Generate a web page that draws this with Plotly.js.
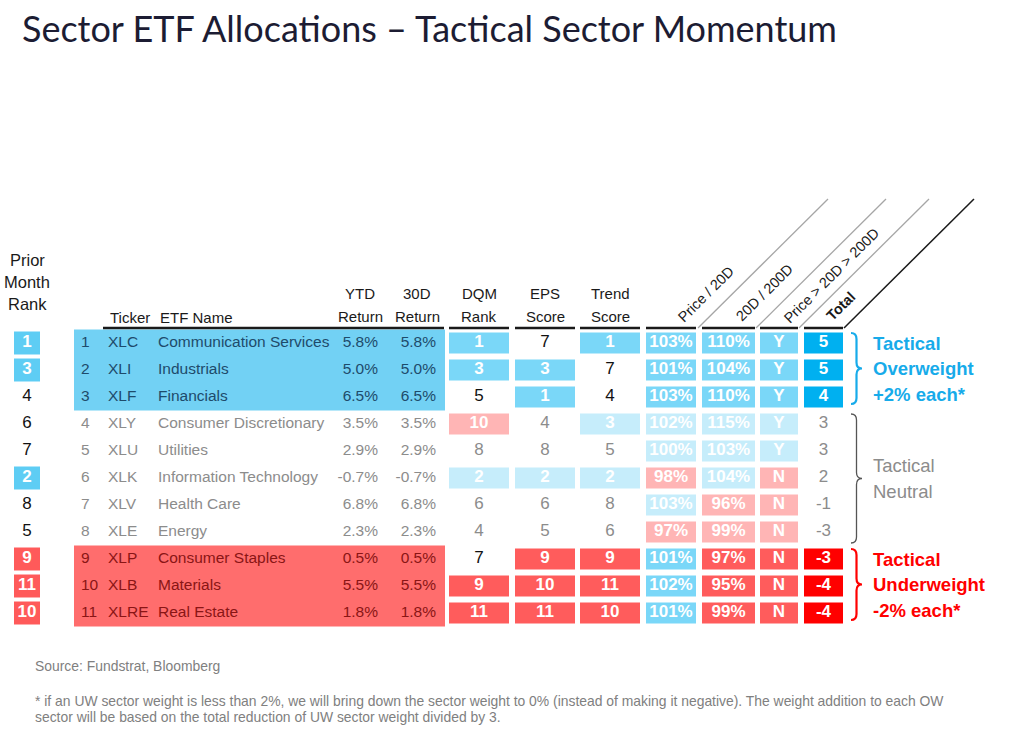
<!DOCTYPE html>
<html>
<head>
<meta charset="utf-8">
<script src="https://cdn.plot.ly/plotly-3.0.1.min.js"></script>
<style>html,body{margin:0;padding:0;background:#fff;}#chart{width:1024px;height:734px;}</style>
</head>
<body>
<div id="chart"></div>
<script>
// ---------------- DATA ----------------
const priorMonthRank = [1, 3, 4, 6, 7, 2, 8, 5, 9, 11, 10];
const currentRank    = [1, 2, 3, 4, 5, 6, 7, 8, 9, 10, 11];
const tickers = ['XLC', 'XLI', 'XLF', 'XLY', 'XLU', 'XLK', 'XLV', 'XLE', 'XLP', 'XLB', 'XLRE'];
const etfNames = ['Communication Services', 'Industrials', 'Financials', 'Consumer Discretionary',
  'Utilities', 'Information Technology', 'Health Care', 'Energy', 'Consumer Staples', 'Materials', 'Real Estate'];
const ytdReturn = [5.8, 5.0, 6.5, 3.5, 2.9, -0.7, 6.8, 2.3, 0.5, 5.5, 1.8];
const return30D = [5.8, 5.0, 6.5, 3.5, 2.9, -0.7, 6.8, 2.3, 0.5, 5.5, 1.8];
const dqmRank    = [1, 3, 5, 10, 8, 2, 6, 4, 7, 9, 11];
const epsScore   = [7, 3, 1, 4, 8, 2, 6, 5, 9, 10, 11];
const trendScore = [1, 7, 4, 3, 5, 2, 8, 6, 9, 11, 10];
const priceTo20D = [103, 101, 103, 102, 100, 98, 103, 97, 101, 102, 101];
const ma20To200D = [110, 104, 110, 115, 103, 104, 96, 99, 97, 95, 99];
const priceAbove = ['Y', 'Y', 'Y', 'Y', 'Y', 'N', 'N', 'N', 'N', 'N', 'N'];
const totalScore = [5, 5, 4, 3, 3, 2, -1, -3, -3, -4, -4];
const stance     = ['OW', 'OW', 'OW', 'N', 'N', 'N', 'N', 'N', 'UW', 'UW', 'UW'];
const titleText = 'Sector ETF Allocations \u2013 Tactical Sector Momentum';
const groupLabels = {
  OW: ['Tactical', 'Overweight', '+2% each*'],
  N:  ['Tactical', 'Neutral'],
  UW: ['Tactical', 'Underweight', '-2% each*']
};
const sourceNote = 'Source: Fundstrat, Bloomberg';
const footNote = ['* if an UW sector weight is less than 2%, we will bring down the sector weight to 0% (instead of making it negative). The weight addition to each OW',
  'sector will be based on the total reduction of UW sector weight divided by 3.'];

// ---------------- STYLE / LAYOUT CONSTANTS ----------------
const FONT = '"Liberation Sans", Arial, sans-serif';
const C = {
  blue: '#7AD7F8', lightBlue: '#C6EDFB', red: '#FF5C5C', pink: '#FFB5B5',
  priorBlue: '#5ECDF4', priorRed: '#FF5A5A', rectBlue: '#72D1F4', rectRed: '#FF6D6D',
  totBlue: '#00B0F0', totRed: '#FF0000', gray: '#8C8C8C', black: '#111111',
  owText: '#1E4B6B', uwText: '#8A1515', owLabel: '#17ABEA', uwLabel: '#FF0000'
};
const ROW0 = 343, ROWH = 27, BOXH = 21;
const cy = i => ROW0 + ROWH * i;

const shapes = [], annotations = [], traces = [];

// left group background rectangles
function groupRows(g) { const r = []; stance.forEach((s, i) => { if (s === g) r.push(i); }); return r; }
[['OW', C.rectBlue], ['UW', C.rectRed]].forEach(([g, col]) => {
  const r = groupRows(g);
  shapes.push({type: 'rect', xref: 'x', yref: 'y', x0: 74, x1: 445,
    y0: cy(r[0]) - 13.5, y1: cy(r[r.length - 1]) + 13.5, fillcolor: col, line: {width: 0}, layer: 'below'});
});

// prior month rank column
(function () {
  const xs = [], ys = [], tx = [], tc = [];
  priorMonthRank.forEach((v, i) => {
    let fill = null;
    if (v <= 3) fill = C.priorBlue; else if (v >= 9) fill = C.priorRed;
    if (fill) shapes.push({type: 'rect', xref: 'x', yref: 'y', x0: 14, x1: 40, y0: cy(i) - 11.5, y1: cy(i) + 11.5,
      fillcolor: fill, line: {width: 0}, layer: 'below'});
    xs.push(27); ys.push(cy(i));
    tx.push(fill ? '<b>' + v + '</b>' : String(v));
    tc.push(fill ? '#FFFFFF' : C.black);
  });
  traces.push({type: 'scatter', mode: 'text', x: xs, y: ys, text: tx, textposition: 'middle center',
    textfont: {family: FONT, size: 17, color: tc}, hoverinfo: 'skip', showlegend: false});
})();

// left block text
function leftColor(i) { return stance[i] === 'OW' ? C.owText : stance[i] === 'UW' ? C.uwText : C.gray; }
const fmtPct = v => v.toFixed(1) + '%';
[
  {vals: currentRank.map(String), x: 81, pos: 'middle right'},
  {vals: tickers, x: 108, pos: 'middle right'},
  {vals: etfNames, x: 158, pos: 'middle right'},
  {vals: ytdReturn.map(fmtPct), x: 378, pos: 'middle left'},
  {vals: return30D.map(fmtPct), x: 436, pos: 'middle left'}
].forEach(col => {
  traces.push({type: 'scatter', mode: 'text', x: col.vals.map(() => col.x), y: col.vals.map((_, i) => cy(i)),
    text: col.vals, textposition: col.pos,
    textfont: {family: FONT, size: 15.5, color: col.vals.map((_, i) => leftColor(i))},
    hoverinfo: 'skip', showlegend: false});
});

// score columns
const COLS = [
  {vals: dqmRank, kind: 'rank', x0: 449, x1: 509},
  {vals: epsScore, kind: 'rank', x0: 515, x1: 575},
  {vals: trendScore, kind: 'rank', x0: 580, x1: 640},
  {vals: priceTo20D, kind: 'pct', x0: 646, x1: 696},
  {vals: ma20To200D, kind: 'pct', x0: 702, x1: 755},
  {vals: priceAbove, kind: 'yn', x0: 760, x1: 798},
  {vals: totalScore, kind: 'total', x0: 804, x1: 843}
];
COLS.forEach(col => {
  const xs = [], ys = [], tx = [], tc = [];
  col.vals.forEach((v, i) => {
    const neutral = stance[i] === 'N';
    let good = false, bad = false;
    if (col.kind === 'rank') { good = v <= 3; bad = v >= 9; }
    else if (col.kind === 'pct') { good = v >= 100; bad = !good; }
    else if (col.kind === 'yn') { good = v === 'Y'; bad = !good; }
    let fill = null;
    if (col.kind === 'total') {
      if (stance[i] === 'OW') fill = C.totBlue; else if (stance[i] === 'UW') fill = C.totRed;
    } else if (good) fill = neutral ? C.lightBlue : C.blue;
    else if (bad) fill = neutral ? C.pink : C.red;
    if (fill) shapes.push({type: 'rect', xref: 'x', yref: 'y', x0: col.x0, x1: col.x1,
      y0: cy(i) - BOXH / 2, y1: cy(i) + BOXH / 2, fillcolor: fill, line: {width: 0}, layer: 'below'});
    const label = col.kind === 'pct' ? v + '%' : String(v);
    xs.push((col.x0 + col.x1) / 2); ys.push(cy(i));
    tx.push(fill ? '<b>' + label + '</b>' : label);
    tc.push(fill ? '#FFFFFF' : (neutral ? C.gray : C.black));
  });
  traces.push({type: 'scatter', mode: 'text', x: xs, y: ys, text: tx, textposition: 'middle center',
    textfont: {family: FONT, size: 17, color: tc}, hoverinfo: 'skip', showlegend: false});
  // header underline
  shapes.push({type: 'line', xref: 'x', yref: 'y', x0: col.x0, x1: col.x1, y0: 328, y1: 328,
    line: {color: '#1A1A1A', width: 2.5}});
});
shapes.push({type: 'line', xref: 'x', yref: 'y', x0: 103, x1: 444, y0: 328, y1: 328, line: {color: '#1A1A1A', width: 2.5}});

// diagonal header lines
[[698, '#A6A6A6', 1.3], [756, '#A6A6A6', 1.3], [799, '#A6A6A6', 1.3], [844, '#1A1A1A', 1.5]].forEach(([x, c, w]) => {
  shapes.push({type: 'line', xref: 'x', yref: 'y', x0: x, y0: 328, x1: x + 130, y1: 199, line: {color: c, width: w}});
});

// headers
function ann(text, x, y, opts) {
  annotations.push(Object.assign({xref: 'x', yref: 'y', x: x, y: y, text: text, showarrow: false,
    xanchor: 'center', yanchor: 'middle', font: {family: FONT, size: 15, color: '#1A1A1A'}}, opts || {}));
}
const bigHdr = {font: {family: FONT, size: 16.5, color: '#1A1A1A'}};
ann('Prior', 27, 260, bigHdr); ann('Month', 27, 282, bigHdr); ann('Rank', 27, 304, bigHdr);
ann('Ticker', 108, 317, {xanchor: 'left'}); ann('ETF Name', 158, 317, {xanchor: 'left'});
ann('YTD', 360, 293); ann('Return', 360, 316);
ann('30D', 417, 293); ann('Return', 417, 316);
ann('DQM', 479, 293); ann('Rank', 479, 316);
ann('EPS', 545, 293); ann('Score', 545, 316);
ann('Trend', 610, 293); ann('Score', 610, 316);
const diagFont = {family: FONT, size: 14.5, color: '#1A1A1A'};
ann('Price / 20D', 706, 294, {textangle: -45, font: diagFont});
ann('20D / 200D', 764, 293, {textangle: -45, font: diagFont});
ann('Price > 20D > 200D', 831, 276, {textangle: -45, font: diagFont});
ann('<b>Total</b>', 841, 306, {textangle: -45, font: diagFont});

// braces + group labels
function brace(top, bottom, color, width) {
  const mid = (top + bottom) / 2, xl = 851, xv = 856.5, xt = 862;
  return {type: 'path', xref: 'x', yref: 'y', line: {color: color, width: width},
    path: `M ${xl} ${top} Q ${xv} ${top} ${xv} ${top + 6} L ${xv} ${mid - 6} Q ${xv} ${mid} ${xt} ${mid} ` +
          `Q ${xv} ${mid} ${xv} ${mid + 6} L ${xv} ${bottom - 6} Q ${xv} ${bottom} ${xl} ${bottom}`};
}
const grpStyle = {
  OW: {color: C.owLabel, lw: 2.2, bold: true, size: 18.5},
  N:  {color: '#555555', lw: 1.3, bold: false, size: 18.5},
  UW: {color: C.uwLabel, lw: 2.2, bold: true, size: 18.5}
};
['OW', 'N', 'UW'].forEach(g => {
  const r = groupRows(g);
  const top = cy(r[0]) - 10, bottom = cy(r[r.length - 1]) + (g === 'N' ? 11 : 7);
  shapes.push(brace(top, bottom, grpStyle[g].color, grpStyle[g].lw));
  const labels = groupLabels[g];
  const mid = (top + bottom) / 2;
  labels.forEach((t, k) => {
    const y = mid + (k - (labels.length - 1) / 2) * 25.5;
    annotations.push({xref: 'x', yref: 'y', x: 871, y: y, text: grpStyle[g].bold ? '<b>' + t + '</b>' : t,
      showarrow: false, xanchor: 'left', yanchor: 'middle',
      font: {family: FONT, size: grpStyle[g].size, color: g === 'N' ? C.gray : grpStyle[g].color}});
  });
});

// footer
const footFont = {family: FONT, size: 13.9, color: '#808080'};
ann(sourceNote, 33, 666, {xanchor: 'left', font: footFont});
footNote.forEach((t, k) => ann(t, 33, 701 + 16 * k, {xanchor: 'left', font: footFont}));

const layout = {
  width: 1024, height: 734,
  margin: {l: 0, r: 0, t: 0, b: 0},
  paper_bgcolor: '#FFFFFF', plot_bgcolor: '#FFFFFF',
  title: {text: titleText, x: 22 / 1024, xanchor: 'left', xref: 'paper', y: 1 - 29 / 734, yanchor: 'middle', yref: 'container',
    font: {family: 'Lato, "Open Sans", sans-serif', size: 36, color: '#1C1C33'}},
  xaxis: {range: [0, 1024], visible: false, fixedrange: true},
  yaxis: {range: [734, 0], visible: false, fixedrange: true},
  shapes: shapes, annotations: annotations, showlegend: false
};
Plotly.newPlot('chart', traces, layout, {displayModeBar: false, staticPlot: true});
</script>
</body>
</html>
